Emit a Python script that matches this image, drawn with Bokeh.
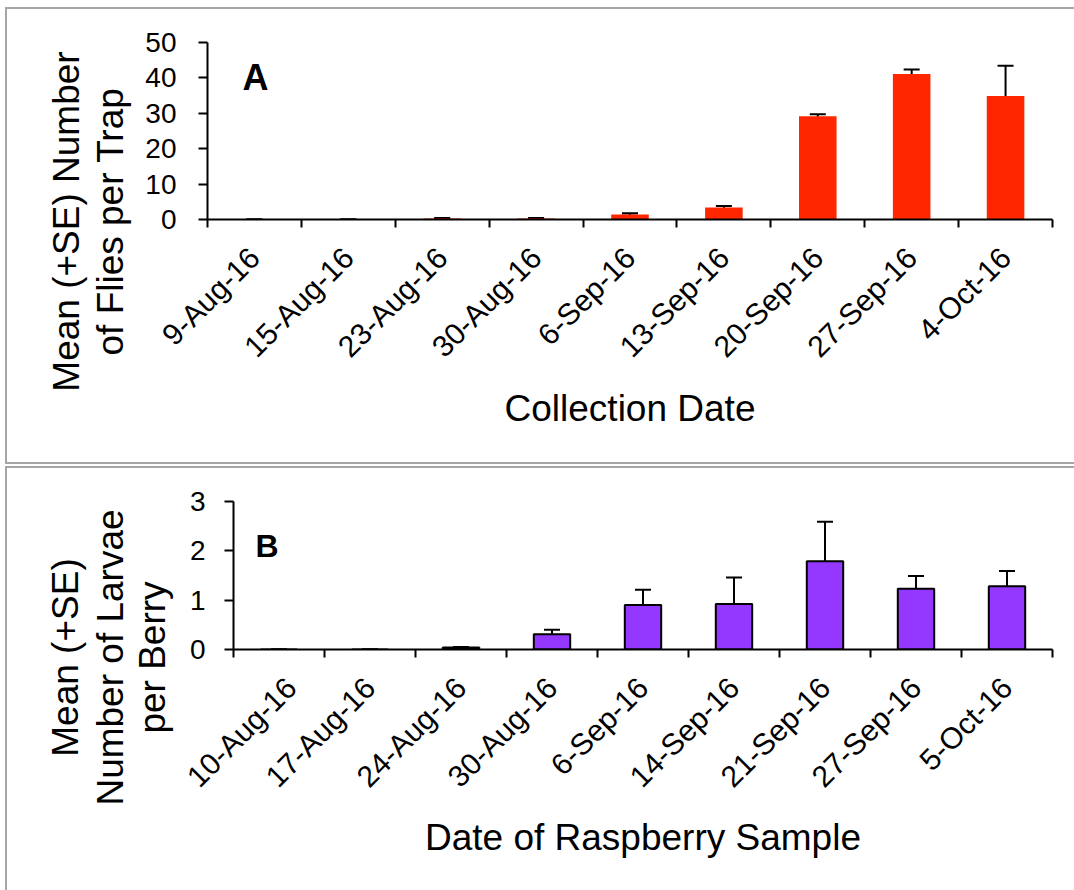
import numpy as np
from math import pi
from bokeh.plotting import figure
from bokeh.models import (ColumnDataSource, Range1d, FixedTicker, LinearAxis,
                          Whisker, TeeHead, Label)
from bokeh.layouts import column, row
from bokeh.embed import file_html
from bokeh.resources import INLINE

# ---------------- data ----------------
trap_dates = ["9-Aug-16", "15-Aug-16", "23-Aug-16", "30-Aug-16", "6-Sep-16",
              "13-Sep-16", "20-Sep-16", "27-Sep-16", "4-Oct-16"]
flies_mean = [0.0, 0.0, 0.3, 0.3, 1.4, 3.4, 29.2, 41.1, 34.9]
flies_se = [0.0, 0.0, 0.15, 0.15, 0.35, 0.4, 0.5, 1.3, 8.5]
flies_ticks = [0, 10, 20, 30, 40, 50]

berry_dates = ["10-Aug-16", "17-Aug-16", "24-Aug-16", "30-Aug-16", "6-Sep-16",
               "14-Sep-16", "21-Sep-16", "27-Sep-16", "5-Oct-16"]
larvae_mean = [0.0, 0.0, 0.04, 0.31, 0.90, 0.92, 1.79, 1.23, 1.28]
larvae_se = [0.0, 0.0, 0.01, 0.09, 0.31, 0.54, 0.80, 0.26, 0.31]
larvae_ticks = [0, 1, 2, 3]

FONT = "Liberation Sans"
YTICK_SIZE = "28px"
XTICK_SIZE = "30px"
TITLE_SIZE = "37px"
BORDER = "2px solid #a6a6a6"


def title_figure(width, height, lines, center_y, css):
    """Narrow figure holding the (multi-line) vertical axis title."""
    t = figure(width=width, height=height, output_backend="svg",
               toolbar_location=None, x_axis_type=None, y_axis_type=None,
               x_range=Range1d(0, width), y_range=Range1d(0, height),
               min_border_left=0, min_border_right=0,
               min_border_top=0, min_border_bottom=0)
    t.outline_line_color = None
    t.grid.visible = False
    for text, xpos in lines:
        t.add_layout(Label(x=xpos, y=center_y, text=text, angle=pi / 2,
                           text_align="center", text_baseline="alphabetic",
                           text_font=FONT, text_font_size=TITLE_SIZE,
                           text_color="black"))
    t.styles = css
    return t


def main_figure(dates, means, ses, yticks, fill, line_color, letter, letter_xy,
                letter_size, xtitle, xtitle_standoff, ylabel_standoff,
                width, height, borders, css):
    n = len(dates)
    centers = list(np.arange(n) + 0.5)
    bounds = list(np.arange(n + 1).astype(float))
    means = np.array(means)
    ses = np.array(ses)
    src = ColumnDataSource(dict(x=centers, top=means,
                                upper=means + ses, lower=means - ses))
    p = figure(width=width, height=height, output_backend="svg",
               toolbar_location=None, x_axis_type=None, y_axis_type=None,
               x_range=Range1d(0, n), y_range=Range1d(yticks[0], yticks[-1]),
               min_border_left=borders[0], min_border_top=borders[1],
               min_border_right=borders[2], min_border_bottom=borders[3])
    p.outline_line_color = None
    p.grid.visible = False

    yaxis = LinearAxis(ticker=FixedTicker(ticks=yticks))
    yaxis.axis_line_width = 2
    yaxis.axis_line_color = "black"
    yaxis.major_tick_line_width = 2
    yaxis.major_tick_line_color = "black"
    yaxis.major_tick_out = 9
    yaxis.major_tick_in = 0
    yaxis.minor_tick_line_color = None
    yaxis.major_label_standoff = ylabel_standoff
    yaxis.major_label_text_font = FONT
    yaxis.major_label_text_font_size = YTICK_SIZE
    yaxis.major_label_text_color = "black"
    p.add_layout(yaxis, "left")

    xaxis = LinearAxis(ticker=FixedTicker(ticks=centers, minor_ticks=bounds))
    xaxis.major_label_overrides = {c: d for c, d in zip(centers, dates)}
    xaxis.major_label_orientation = pi / 4
    xaxis.axis_line_width = 2
    xaxis.axis_line_color = "black"
    xaxis.major_tick_line_color = None
    xaxis.major_tick_out = 0
    xaxis.major_tick_in = 0
    xaxis.minor_tick_line_color = "black"
    xaxis.minor_tick_line_width = 2
    xaxis.minor_tick_out = 8
    xaxis.minor_tick_in = 0
    xaxis.major_label_standoff = 25
    xaxis.major_label_text_font = FONT
    xaxis.major_label_text_font_size = XTICK_SIZE
    xaxis.major_label_text_color = "black"
    xaxis.axis_label = xtitle
    xaxis.axis_label_text_font = FONT
    xaxis.axis_label_text_font_size = TITLE_SIZE
    xaxis.axis_label_text_font_style = "normal"
    xaxis.axis_label_text_color = "black"
    xaxis.axis_label_standoff = xtitle_standoff
    p.add_layout(xaxis, "below")

    p.vbar(x="x", top="top", bottom=0, width=0.4, source=src,
           fill_color=fill, line_color=line_color,
           line_width=2 if line_color else 0)

    w = Whisker(source=src, base="x", upper="upper", lower="lower",
                dimension="height", line_color="black", line_width=2,
                upper_head=TeeHead(size=16, line_width=2, line_color="black"),
                lower_head=TeeHead(size=16, line_width=2, line_color="black"))
    p.add_layout(w)

    p.add_layout(Label(x=letter_xy[0], y=letter_xy[1], text=letter,
                       text_align="left", text_baseline="alphabetic",
                       text_font=FONT, text_font_size=letter_size,
                       text_font_style="bold", text_color="black"))
    p.styles = css
    return p


# ---------------- panel A ----------------
tA = title_figure(135, 457,
                  [("Mean (+SE) Number", 59), ("of Flies per Trap", 103)], 245,
                  {"border-left": BORDER, "border-top": BORDER,
                   "border-bottom": BORDER})
mA = main_figure(trap_dates, flies_mean, flies_se, flies_ticks,
                 "#FF2600", None, "A", (0.373, 40.1), "36px",
                 "Collection Date", 10, 22, 934, 457, (67, 33, 22, 247),
                 {"border-top": BORDER, "border-bottom": BORDER})
rowA = row(column(tA), mA)
rowA.margin = (7, 0, 0, 5)

# ---------------- panel B ----------------
tB = title_figure(175, 424,
                  [("Mean (+SE)", 58), ("Number of Larvae", 103),
                   ("per Berry", 145)], 235,
                  {"border-left": BORDER, "border-top": BORDER})
mB = main_figure(berry_dates, larvae_mean, larvae_se, larvae_ticks,
                 "#9437FF", "black", "B", (0.242, 2.108), "32px",
                 "Date of Raspberry Sample", 9, 19, 894, 424, (53, 33, 22, 243),
                 {"border-top": BORDER})
rowB = row(column(tB), mB)
rowB.margin = (2, 0, 0, 5)

layout = column(rowA, rowB)
open("out.html", "w").write(file_html(layout, INLINE))
